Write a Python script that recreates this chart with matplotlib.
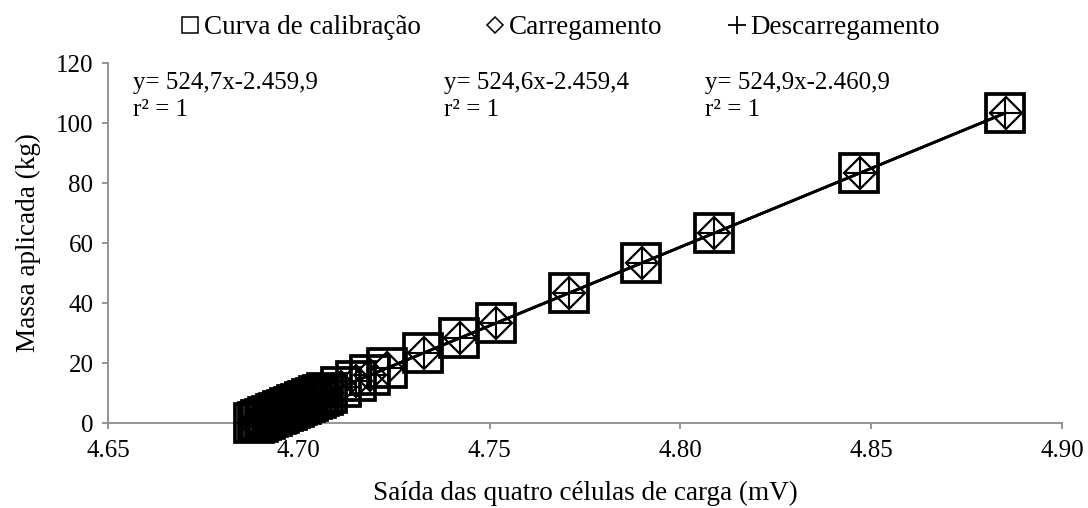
import numpy as np
import matplotlib
matplotlib.use("Agg")
import matplotlib.pyplot as plt
from matplotlib.lines import Line2D

plt.rcParams['font.family'] = ['Liberation Serif', 'DejaVu Serif']

# applied mass (kg) and output of the four load cells (mV)
massa = [0.0, 0.5, 1.0, 1.5, 2.0, 2.5, 3.0, 3.5, 4.0, 4.5, 5.0, 5.5, 6.0, 6.5,
         7.0, 7.5, 8.0, 8.5, 9.0, 9.5, 10.0, 12.0, 14.0, 16.0, 18.3, 23.3,
         28.3, 33.3, 43.3, 53.3, 63.3, 83.3, 103.3]
saida_calib = [4.6882, 4.6892, 4.6901, 4.6911, 4.6920, 4.6930, 4.6939, 4.6949,
               4.6958, 4.6968, 4.6977, 4.6987, 4.6996, 4.7006, 4.7015, 4.7025,
               4.7034, 4.7044, 4.7054, 4.7063, 4.7073, 4.7111, 4.7149, 4.7187,
               4.7231, 4.7326, 4.7421, 4.7517, 4.7707, 4.7898, 4.8088, 4.8469,
               4.8850]
saida_carga = [4.6882, 4.6891, 4.6901, 4.6911, 4.6920, 4.6930, 4.6939, 4.6949,
               4.6958, 4.6968, 4.6977, 4.6987, 4.6996, 4.7006, 4.7016, 4.7025,
               4.7035, 4.7044, 4.7054, 4.7063, 4.7073, 4.7111, 4.7149, 4.7187,
               4.7231, 4.7327, 4.7422, 4.7517, 4.7708, 4.7899, 4.8089, 4.8470,
               4.8852]
saida_descarga = [4.6885, 4.6894, 4.6904, 4.6913, 4.6923, 4.6932, 4.6942, 4.6951,
                  4.6961, 4.6970, 4.6980, 4.6989, 4.6999, 4.7008, 4.7018, 4.7027,
                  4.7037, 4.7047, 4.7056, 4.7066, 4.7075, 4.7113, 4.7151, 4.7189,
                  4.7233, 4.7328, 4.7423, 4.7518, 4.7708, 4.7899, 4.8089, 4.8470,
                  4.8850]

# linear fits (slope, intercept) shown on the chart
ajuste_calib = (524.7, -2459.9)
ajuste_carga = (524.6, -2459.4)
ajuste_descarga = (524.9, -2460.9)
textos = ['y= 524,7x-2.459,9\nr² = 1',
          'y= 524,6x-2.459,4\nr² = 1',
          'y= 524,9x-2.460,9\nr² = 1']
texto_x = [0.026, 0.352, 0.626]

fig = plt.figure(figsize=(10.88, 5.08), dpi=100)
ax = fig.add_axes([108/1088, 85/508, 954/1088, 360/508])

# trend lines
for xs, (a, b) in [(saida_calib, ajuste_calib), (saida_carga, ajuste_carga),
                   (saida_descarga, ajuste_descarga)]:
    xx = np.array([min(xs), max(xs)])
    ax.plot(xx, a*xx + b, color='black', lw=1.9, zorder=2)

ax.plot(saida_calib, massa, ls='none', marker='s', ms=27.5, mfc='none',
        mec='black', mew=2.7, zorder=3, clip_on=False)
ax.plot(saida_carga, massa, ls='none', marker='D', ms=16.5, mfc='none',
        mec='black', mew=1.6, zorder=4, clip_on=False)
ax.plot(saida_descarga, massa, ls='none', marker='+', ms=23, mec='black',
        mew=1.5, zorder=5, clip_on=False)

for t, x in zip(textos, texto_x):
    ax.text(x, 0.975, t, transform=ax.transAxes, fontsize=18, va='top',
            ha='left', linespacing=1.3)

ax.set_xlim(4.65, 4.90)
ax.set_ylim(0, 120)
ax.set_xticks([4.65, 4.70, 4.75, 4.80, 4.85, 4.90])
ax.set_xticklabels(['4.65', '4.70', '4.75', '4.80', '4.85', '4.90'])
ax.set_yticks([0, 20, 40, 60, 80, 100, 120])

for s in ['top', 'right']:
    ax.spines[s].set_visible(False)
for s in ['left', 'bottom']:
    ax.spines[s].set_color('#8c8c8c')
    ax.spines[s].set_linewidth(1.3)
ax.tick_params(axis='both', direction='out', length=4.5, width=1.3,
               color='#8c8c8c', labelsize=18, labelcolor='black')
ax.tick_params(axis='x', pad=8)
ax.tick_params(axis='y', pad=6)

ax.set_xlabel('Saída das quatro células de carga (mV)', fontsize=19.5, labelpad=13)
ax.set_ylabel('Massa aplicada (kg)', fontsize=19.5, labelpad=11)

handles = [
    Line2D([], [], ls='none', marker='s', ms=12, mfc='none', mec='black', mew=1.1),
    Line2D([], [], ls='none', marker='D', ms=8.5, mfc='none', mec='black', mew=1.1),
    Line2D([], [], ls='none', marker='+', ms=13, mec='black', mew=1.3),
]
fig.legend(handles, ['Curva de calibração', 'Carregamento', 'Descarregamento'],
           loc='upper center', bbox_to_anchor=(0.515, 1.018), ncol=3, frameon=False,
           fontsize=19.5, handlelength=0.7, handletextpad=0.15, columnspacing=2.4)

fig.savefig('out.png', dpi=100)
